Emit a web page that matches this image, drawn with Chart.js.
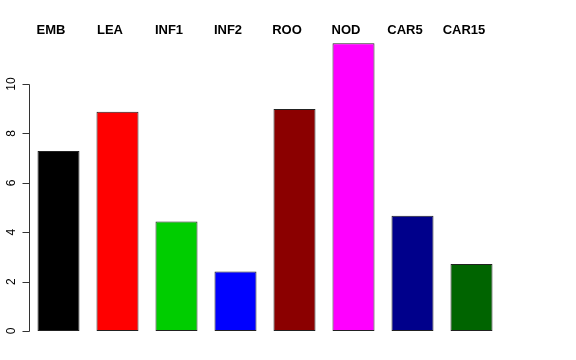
<!DOCTYPE html>
<html>
<head>
<meta charset="utf-8">
<script src="https://cdn.jsdelivr.net/npm/chart.js@4/dist/chart.umd.min.js"></script>
<style>
html,body{margin:0;padding:0;background:#fff;}
#wrap{width:576px;height:360px;position:relative;}
</style>
</head>
<body>
<div id="wrap"><canvas id="c" width="576" height="360"></canvas></div>
<script>
const categories = ["EMB","LEA","INF1","INF2","ROO","NOD","CAR5","CAR15"];
const values = [7.29, 8.88, 4.43, 2.41, 8.99, 11.65, 4.67, 2.71];
const barColors = ["#000000","#FF0000","#00CD00","#0000FF","#8B0000","#FF00FF","#00008B","#006400"];
const yTicks = [0, 2, 4, 6, 8, 10];

const axisPlugin = {
  id: 'rAxis',
  afterDraw(chart) {
    const ctx = chart.ctx;
    const y = chart.scales.y;
    const x = chart.scales.x;
    const left = chart.chartArea.left;
    ctx.save();
    ctx.strokeStyle = '#333';
    ctx.lineWidth = 1;
    ctx.beginPath();
    const ax = Math.round(left) + 0.5;
    ctx.moveTo(ax, Math.round(y.getPixelForValue(yTicks[0])) + 0.5);
    ctx.lineTo(ax, Math.round(y.getPixelForValue(yTicks[yTicks.length-1])) + 0.5);
    yTicks.forEach(v => {
      const py = Math.round(y.getPixelForValue(v)) + 0.5;
      ctx.moveTo(ax, py);
      ctx.lineTo(ax - 7, py);
    });
    ctx.stroke();
    ctx.fillStyle = '#000';
    ctx.font = '12px "Liberation Sans", Arial, sans-serif';
    ctx.textAlign = 'center';
    ctx.textBaseline = 'middle';
    yTicks.forEach(v => {
      const py = y.getPixelForValue(v);
      ctx.save();
      ctx.translate(left - 17, py);
      ctx.rotate(-Math.PI/2);
      ctx.fillText(String(v), 0, 0);
      ctx.restore();
    });
    ctx.font = 'bold 13px "Liberation Sans", Arial, sans-serif';
    ctx.textAlign = 'center';
    ctx.textBaseline = 'middle';
    categories.forEach((c, i) => {
      const px = x.getPixelForValue(i);
      ctx.fillText(c, px - 7.5, 30);
    });
    ctx.restore();
  }
};

new Chart(document.getElementById('c'), {
  type: 'bar',
  data: {
    labels: categories,
    datasets: [{
      data: values,
      backgroundColor: barColors,
      borderColor: '#222',
      borderWidth: 1,
      borderSkipped: false,
      categoryPercentage: 1.0,
      barPercentage: 0.712
    }]
  },
  options: {
    responsive: false,
    animation: false,
    devicePixelRatio: 1,
    layout: { padding: { left: 29, top: 31, right: 75, bottom: 29 } },
    plugins: { legend: { display: false }, tooltip: { enabled: false } },
    scales: {
      x: { display: false, offset: true },
      y: { display: false, min: 0, max: 12.15 }
    }
  },
  plugins: [axisPlugin]
});
</script>
</body>
</html>
